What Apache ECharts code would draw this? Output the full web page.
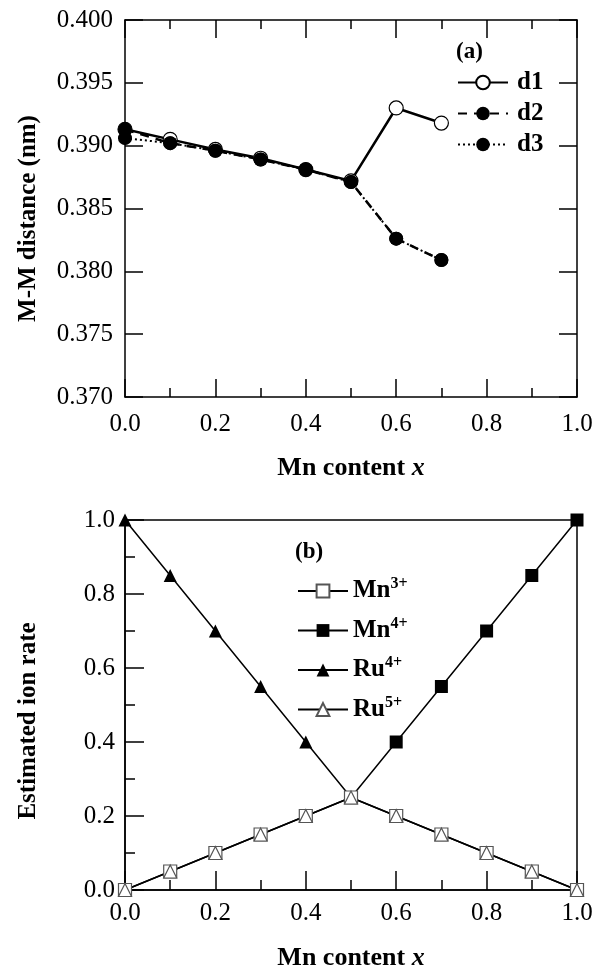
<!DOCTYPE html>
<html>
<head>
<meta charset="utf-8">
<script src="https://cdn.jsdelivr.net/npm/echarts@6/dist/echarts.min.js"></script>
<style>
  body { margin: 0; background: #fff; }
  .view01, .view02 { width: 603px; height: 488px; }
</style>
</head>
<body>
<div class="view01"></div>
<div class="view02"></div>
<script>
// 数据
const xTop = [0.0, 0.1, 0.2, 0.3, 0.4, 0.5, 0.6, 0.7];
const d1 = [0.3913, 0.3905, 0.3897, 0.3890, 0.3881, 0.3872, 0.3930, 0.3918];
const d2 = [0.3913, 0.3902, 0.3896, 0.3889, 0.3881, 0.3871, 0.3826, 0.3809];
const d3 = [0.3906, 0.3902, 0.3896, 0.3889, 0.3881, 0.3871, 0.3826, 0.3809];

const xBottom = [0.0, 0.1, 0.2, 0.3, 0.4, 0.5, 0.6, 0.7, 0.8, 0.9, 1.0];
const mn3 = [0, 0.05, 0.10, 0.15, 0.20, 0.25, 0.20, 0.15, 0.10, 0.05, 0];
const mn4 = [null, null, null, null, null, 0.25, 0.40, 0.55, 0.70, 0.85, 1.0];
const ru4 = [1.0, 0.85, 0.70, 0.55, 0.40, 0.25, null, null, null, null, null];
const ru5 = [0, 0.05, 0.10, 0.15, 0.20, 0.25, 0.20, 0.15, 0.10, 0.05, 0];

const FONT = "'Liberation Serif', 'Times New Roman', serif";

function pairs(xs, ys) {
  return xs.map((x, i) => [x, ys[i]]);
}

window.onload = function () {
  echart01();
  echart02();

  // (a) M-M distance
  function echart01() {
    let chart1 = echarts.init(document.querySelector('.view01'));
    let axisLine = { onZero: false, lineStyle: { color: '#000', width: 1.5 } };
    let tick = { inside: true, length: 18, lineStyle: { color: '#000', width: 1.5 } };
    let minor = { show: true, splitNumber: 2, length: 9, lineStyle: { color: '#000', width: 1.5 } };
    let option1 = {
      animation: false,
      grid: { left: 125, right: 26, top: 20, bottom: 91 },
      graphic: [{
        type: 'text', left: 456, top: 41,
        style: { text: '(a)', font: 'bold 23px ' + FONT, fill: '#000' }
      }],
      legend: {
        data: ['d1', 'd2', 'd3'],
        orient: 'vertical',
        left: 457, top: 70, padding: 0,
        itemWidth: 50, itemHeight: 17, itemGap: 6,
        textStyle: { fontFamily: FONT, fontWeight: 'bold', fontSize: 25, color: '#000', padding: [0, 0, 0, 4] }
      },
      xAxis: [{
        type: 'value', min: 0, max: 1, interval: 0.2,
        name: 'Mn content {i|x}', nameLocation: 'middle', nameGap: 58,
        nameTextStyle: {
          fontFamily: FONT, fontWeight: 'bold', fontSize: 26, color: '#000',
          rich: { i: { fontFamily: FONT, fontWeight: 'bold', fontStyle: 'italic', fontSize: 26, color: '#000' } }
        },
        axisLine: axisLine, axisTick: tick, minorTick: minor,
        splitLine: { show: false },
        axisLabel: { fontFamily: FONT, fontSize: 25, color: '#000', margin: 15, formatter: v => v.toFixed(1) }
      }, {
        type: 'value', min: 0, max: 1, interval: 0.2, position: 'top',
        axisLine: axisLine, axisTick: tick, minorTick: minor,
        splitLine: { show: false }, axisLabel: { show: false }
      }],
      yAxis: [{
        type: 'value', min: 0.37, max: 0.4, interval: 0.005,
        name: 'M-M distance (nm)', nameLocation: 'middle', nameGap: 84,
        nameTextStyle: { fontFamily: FONT, fontWeight: 'bold', fontSize: 25, color: '#000', padding: [0, 20, 0, 0] },
        axisLine: axisLine, axisTick: tick,
        splitLine: { show: false },
        axisLabel: { fontFamily: FONT, fontSize: 25, color: '#000', margin: 12, formatter: v => v.toFixed(3) }
      }, {
        type: 'value', min: 0.37, max: 0.4, interval: 0.005, position: 'right',
        axisLine: axisLine, axisTick: tick,
        splitLine: { show: false }, axisLabel: { show: false }
      }],
      series: [
        {
          name: 'd1', type: 'line', data: pairs(xTop, d1),
          symbol: 'circle', symbolSize: 14,
          itemStyle: { color: '#fff', borderColor: '#000', borderWidth: 1.2 },
          lineStyle: { color: '#000', width: 2.5 }
        },
        {
          name: 'd2', type: 'line', data: pairs(xTop, d2),
          symbol: 'circle', symbolSize: 14,
          itemStyle: { color: '#000' },
          lineStyle: { color: '#000', width: 2.5, type: [9, 7] }
        },
        {
          name: 'd3', type: 'line', data: pairs(xTop, d3),
          symbol: 'circle', symbolSize: 14,
          itemStyle: { color: '#000' },
          lineStyle: { color: '#000', width: 2, type: [2, 3] }
        }
      ]
    };
    chart1.setOption(option1);
  }

  // (b) Estimated ion rate
  function echart02() {
    let chart2 = echarts.init(document.querySelector('.view02'));
    let axisLine = { onZero: false, lineStyle: { color: '#000', width: 1.5 } };
    let tick = { inside: true, length: 19, lineStyle: { color: '#000', width: 1.5 } };
    let minor = { show: true, splitNumber: 2, length: 10, lineStyle: { color: '#000', width: 1.5 } };
    let supStyle = { fontFamily: FONT, fontWeight: 'bold', fontSize: 16, color: '#000', verticalAlign: 'top', padding: [0, 0, 14, 0] };
    let option2 = {
      animation: false,
      grid: { left: 125, right: 26, top: 32, bottom: 76, show: true, borderColor: '#000', borderWidth: 1.5 },
      graphic: [{
        type: 'text', left: 295, top: 53,
        style: { text: '(b)', font: 'bold 23px ' + FONT, fill: '#000' }
      }],
      legend: {
        data: ['Mn3+', 'Mn4+', 'Ru4+', 'Ru5+'],
        orient: 'vertical',
        left: 297, top: 88, padding: 0,
        itemWidth: 50, itemHeight: 16, itemGap: 12,
        formatter: function (name) {
          return name.slice(0, 2) + '{sup|' + name.slice(2) + '}';
        },
        textStyle: {
          fontFamily: FONT, fontWeight: 'bold', fontSize: 25, color: '#000', padding: 0,
          rich: { sup: supStyle }
        }
      },
      xAxis: {
        type: 'value', min: 0, max: 1, interval: 0.2,
        name: 'Mn content {i|x}', nameLocation: 'middle', nameGap: 55,
        nameTextStyle: {
          fontFamily: FONT, fontWeight: 'bold', fontSize: 26, color: '#000',
          rich: { i: { fontFamily: FONT, fontWeight: 'bold', fontStyle: 'italic', fontSize: 26, color: '#000' } }
        },
        axisLine: axisLine, axisTick: tick, minorTick: minor,
        splitLine: { show: false },
        axisLabel: { fontFamily: FONT, fontSize: 25, color: '#000', margin: 11, formatter: v => v.toFixed(1) }
      },
      yAxis: {
        type: 'value', min: 0, max: 1, interval: 0.2,
        name: 'Estimated ion rate', nameLocation: 'middle', nameGap: 84,
        nameTextStyle: { fontFamily: FONT, fontWeight: 'bold', fontSize: 25, color: '#000', padding: [0, 32, 0, 0] },
        axisLine: axisLine, axisTick: tick, minorTick: minor,
        splitLine: { show: false },
        axisLabel: { fontFamily: FONT, fontSize: 25, color: '#000', margin: 10, formatter: v => v.toFixed(1) }
      },
      series: [
        {
          name: 'Mn4+', type: 'line', data: pairs(xBottom, mn4),
          symbol: 'rect', symbolSize: 13,
          itemStyle: { color: '#000' },
          lineStyle: { color: '#000', width: 1.5 }
        },
        {
          name: 'Ru4+', type: 'line', data: pairs(xBottom, ru4),
          symbol: 'triangle', symbolSize: 13,
          itemStyle: { color: '#000' },
          lineStyle: { color: '#000', width: 1.5 }
        },
        {
          name: 'Mn3+', type: 'line', data: pairs(xBottom, mn3),
          symbol: 'rect', symbolSize: 13,
          itemStyle: { color: '#fff', borderColor: '#555', borderWidth: 1.2 },
          lineStyle: { color: '#000', width: 1.5 }
        },
        {
          name: 'Ru5+', type: 'line', data: pairs(xBottom, ru5),
          symbol: 'triangle', symbolSize: 13,
          itemStyle: { color: '#fff', borderColor: '#555', borderWidth: 1.2 },
          lineStyle: { color: '#000', width: 1.5 }
        }
      ]
    };
    chart2.setOption(option2);
  }
};
</script>
</body>
</html>
